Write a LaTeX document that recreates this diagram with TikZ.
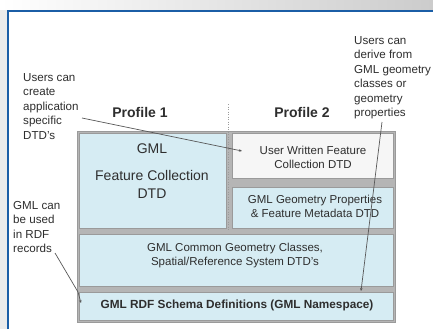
\documentclass[tikz,border=0pt]{standalone}
\usepackage{fontspec}
\setmainfont{Liberation Sans}
\usetikzlibrary{arrows.meta}
\definecolor{frameblue}{HTML}{1B5EA6}
\definecolor{panelblue}{HTML}{D6ECF3}
\definecolor{panelwhite}{HTML}{F6F6F6}
\definecolor{bandgray}{HTML}{B5B5B5}
\definecolor{edgegray}{HTML}{9A9A9A}
\definecolor{txt}{HTML}{2E2E2E}
\begin{document}
\begin{tikzpicture}[x=1pt,y=-1pt,
  panel/.style={draw=edgegray, line width=0.6pt, inner sep=0pt},
  note/.style={align=left, anchor=north west, inner sep=0pt, text=txt,
    font=\fontsize{11.6}{14.5}\selectfont},
  boxtext/.style={align=center, inner sep=0pt, text=txt,
    font=\fontsize{11.5}{14}\selectfont},
  bigtext/.style={align=center, inner sep=0pt, text=txt,
    font=\fontsize{14}{18}\selectfont},
  proflabel/.style={inner sep=0pt, text=txt, font=\fontsize{14}{16}\selectfont\bfseries},
  pointer/.style={draw=txt!80, line width=0.7pt, -{Stealth[length=3pt,width=2.6pt]}}
]
\useasboundingbox (0,0) rectangle (433,329);
% slide background
\fill[left color=white, right color=black!20] (0,0) rectangle (433,10);
\fill[black!8] (0,10) rectangle (7,329);
\fill[white] (9,12) rectangle (433,329);
\draw[frameblue, line width=2pt] (8,329) -- (8,11) -- (433,11);

% stack background
\filldraw[fill=bandgray, draw=edgegray, line width=0.8pt] (77,131) rectangle (395,322);

% panels
\node[panel, fill=panelblue, minimum width=147, minimum height=95] (p1) at (152.5,180.5) {};
\node[panel, fill=panelwhite, minimum width=161, minimum height=45] (p2a) at (312.5,155.5) {};
\node[panel, fill=panelblue, minimum width=161, minimum height=41] (p2b) at (312.5,207.5) {};
\node[panel, fill=panelblue, minimum width=314, minimum height=52] (p3) at (236,260) {};
\node[panel, fill=panelblue, minimum width=314, minimum height=28] (p4) at (236,306) {};

% profile divider
\draw[edgegray, dash pattern=on 1pt off 1.5pt, line width=0.8pt] (228,104) -- (228,231);

% profile labels
\node[proflabel] (prof1) at (140,112) {Profile 1};
\node[proflabel] (prof2) at (302,112) {Profile 2};

% panel texts
\node[bigtext] (t1a) at (152,149) {GML};
\node[bigtext] (t1b) at (152,184) {Feature Collection\\DTD};
\node[boxtext] (t2a) at (313,157) {User Written Feature\\Collection DTD};
\node[boxtext] (t2b) at (315,206) {GML Geometry Properties\\\&~Feature Metadata DTD};
\node[boxtext] (t3) at (235,256) {GML Common Geometry Classes,\\Spatial/Reference System DTD's};
\node[boxtext, font=\fontsize{11.8}{14}\selectfont\bfseries] (t4) at (237,305) {GML RDF Schema Definitions (GML Namespace)};

% annotations
\node[note] (n1) at (23,73) {Users can\\create\\application\\specific\\DTD's};
\node[note] (n2) at (354,36) {Users can\\derive from\\GML geometry\\classes or\\geometry\\properties};
\node[note] (n3) at (13,201) {GML can\\be used\\in RDF\\records};

\coordinate (e1s) at (82,118);
\coordinate (e1t) at (242,151);
\coordinate (e2s) at (382,122);
\coordinate (e2t) at (361,291);
\coordinate (e3s) at (55,253);
\coordinate (e3t) at (81,303);
\draw[pointer] (e1s) -- (e1t);
\draw[pointer] (e2s) -- (e2t);
\draw[pointer] (e3s) -- (78,292) -- (e3t);
\end{tikzpicture}
\end{document}
